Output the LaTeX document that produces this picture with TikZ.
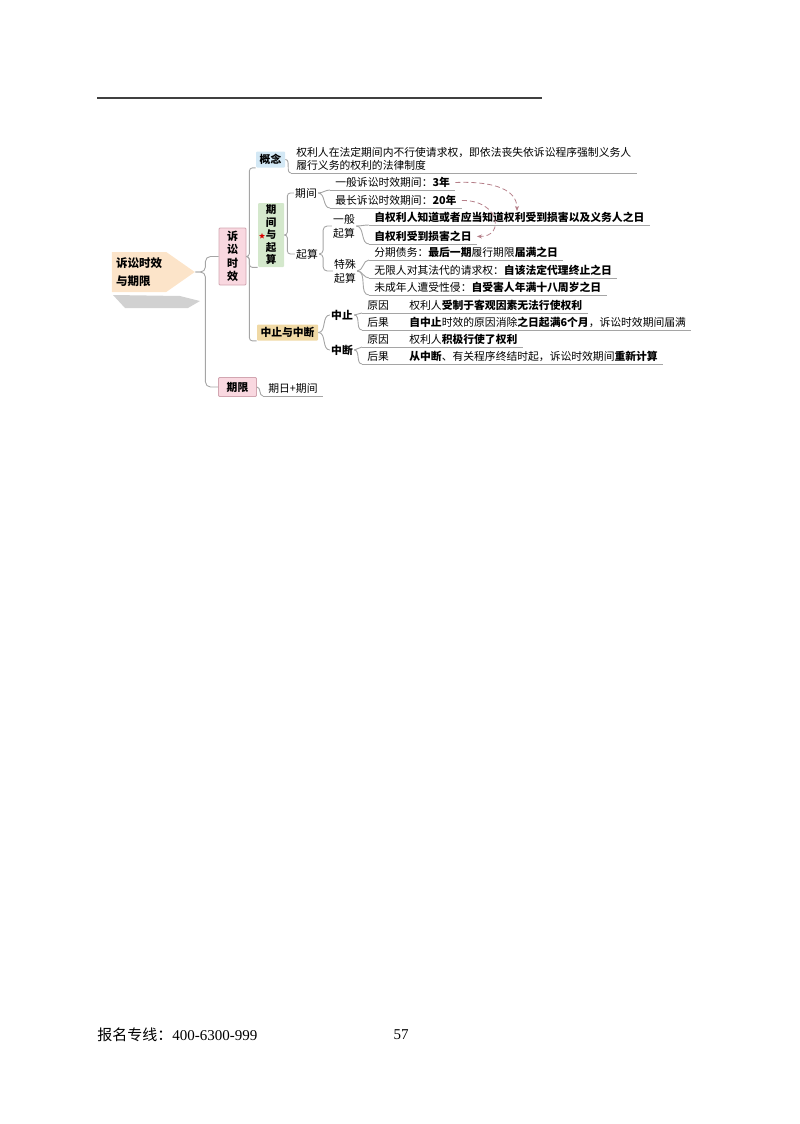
\documentclass[tikz,border=0pt]{standalone}
\usepackage{fontspec}
\setmainfont{Liberation Serif}
\newfontfamily\cjk{Noto Sans CJK SC}
\usetikzlibrary{shapes.symbols,shapes.geometric,arrows.meta}

\definecolor{rootpeach}{HTML}{FCE4C9}
\definecolor{boxpink}{HTML}{F9D8E0}
\definecolor{pinkline}{HTML}{D2A6B1}
\definecolor{boxblue}{HTML}{D3E8F5}
\definecolor{boxgreen}{HTML}{D4E8CC}
\definecolor{boxtan}{HTML}{F0D9A5}
\definecolor{linegray}{HTML}{A5A5A5}
\definecolor{arrowmauve}{HTML}{B57F89}

\tikzset{every picture/.style={line width=0.75pt}}
\tikzset{
  roottopic/.style={shape=signal, signal to=east, signal pointer angle=70,
    fill=rootpeach, minimum width=83pt, minimum height=40pt, inner sep=2pt,
    align=left, font=\cjk\bfseries\fontsize{11.5}{18}\selectfont},
  boxtopic/.style={inner sep=1pt, rounded corners=1pt,
    font=\cjk\bfseries\fontsize{10.8}{13}\selectfont},
  subtopic/.style={inner sep=1pt, font=\cjk\fontsize{10.8}{14}\selectfont},
  leaf/.style={anchor=south west, inner xsep=5pt, inner ysep=2pt,
    font=\cjk\fontsize{10.8}{13}\selectfont},
  branch/.style={draw=linegray, line width=0.9pt},
  uline/.style={draw=linegray, line width=0.9pt},
  redstar/.style={star, star points=5, star point ratio=2.3, fill=red!85!black,
    inner sep=0pt, minimum size=6pt},
  refarrow/.style={draw=arrowmauve, line width=0.8pt, dash pattern=on 5pt off 3pt,
    -{Stealth[length=5pt,width=4pt]}}
}

\begin{document}
\begin{tikzpicture}[x=1pt,y=1pt,yscale=-1]
\useasboundingbox (0,0) rectangle (800,1124);

% header rule
\draw[line width=1.4pt, black!75] (97,98) -- (542,98);

% shadow under the main topic
\fill[black!18] (113,295) -- (180,296) -- (200,301) -- (188,308) -- (125,308) -- cycle;

% main topic
\node[roottopic] (root) at (139,272) {诉讼时效\\与期限};

% boxed topics
\node[boxtopic, fill=boxpink, draw=pinkline, minimum width=27pt, minimum height=57pt,
  align=center, font=\cjk\bfseries\fontsize{11}{13.5}\selectfont] (sushi) at (232.5,256.5) {诉\\讼\\时\\效};
\node[boxtopic, fill=boxpink, draw=pinkline, minimum width=38pt, minimum height=19pt] (qixian) at (237.5,387) {期限};
\node[boxtopic, fill=boxblue, minimum width=29pt, minimum height=16pt] (gainian) at (270.5,159.5) {概念};
\node[boxtopic, fill=boxgreen, minimum width=26pt, minimum height=64pt,
  align=center, font=\cjk\bfseries\fontsize{10.5}{12.5}\selectfont] (qjqs) at (271,235) {期\\间\\与\\起\\算};
\node[redstar] (star) at (262,236) {};
\node[boxtopic, fill=boxtan, minimum width=61pt, minimum height=16pt] (zhong) at (287.5,332.5) {中止与中断};

% sub topics
\node[subtopic] (qijian) at (306,193) {期间};
\node[subtopic] (qisuan) at (307,254) {起算};
\node[subtopic, align=center] (ybqs) at (344,226) {一般\\起算};
\node[subtopic, align=center] (tsqs) at (345,271) {特殊\\起算};
\node[subtopic, font=\cjk\bfseries\fontsize{10.8}{14}\selectfont] (zz) at (342,315) {中止};
\node[subtopic, font=\cjk\bfseries\fontsize{10.8}{14}\selectfont] (zd) at (342,350) {中断};

% leaves
\node[leaf, align=left] (gntext) at (291,173) {权利人在法定期间内不行使请求权，即依法丧失依诉讼程序强制义务人\\履行义务的权利的法律制度};
\node[leaf] (t3) at (330,190) {一般诉讼时效期间：\textbf{3年}};
\node[leaf] (t20) at (330,208) {最长诉讼时效期间：\textbf{20年}};
\node[leaf] (gen1) at (369,225) {\textbf{自权利人知道或者应当知道权利受到损害以及义务人之日}};
\node[leaf] (gen2) at (369,244) {\textbf{自权利受到损害之日}};
\node[leaf] (spe1) at (369,260) {分期债务：\textbf{最后一期}履行期限\textbf{届满之日}};
\node[leaf] (spe2) at (369,278) {无限人对其法代的请求权：\textbf{自该法定代理终止之日}};
\node[leaf] (spe3) at (369,295) {未成年人遭受性侵：\textbf{自受害人年满十八周岁之日}};
\node[leaf] (yy1) at (362,313) {原因};
\node[leaf] (hg1) at (362,330) {后果};
\node[leaf] (yy2) at (362,347) {原因};
\node[leaf] (hg2) at (362,364) {后果};
\node[leaf] (zz1) at (404,313) {权利人\textbf{受制于客观因素无法行使权利}};
\node[leaf] (zz2) at (404,330) {\textbf{自中止}时效的原因消除\textbf{之日起满6个月}，诉讼时效期间届满};
\node[leaf] (zd1) at (404,347) {权利人\textbf{积极行使了权利}};
\node[leaf] (zd2) at (404,364) {\textbf{从中断}、有关程序终结时起，诉讼时效期间\textbf{重新计算}};
\node[leaf] (qm) at (263,396) {期日+期间};

% connectors
\draw[branch, rounded corners=5pt] (root.east) -- ++(10,0) |- (sushi.west);
\draw[branch, rounded corners=5pt] (root.east) -- ++(10,0) |- (qixian.west);
\foreach \n in {gainian,qjqs,zhong}
  \draw[branch, rounded corners=3pt] (sushi.east) -- ++(3,0) |- (\n.south west);
\draw[branch] (gainian.east) to[out=0,in=180] (gntext.south west);
\foreach \n in {qijian,qisuan}
  \draw[branch, rounded corners=3pt] (qjqs.east) -- ++(3,0) |- (\n.west);
\foreach \n in {t3,t20}
  \draw[branch] (qijian.east) to[out=0,in=180] (\n.south west);
\foreach \n in {ybqs,tsqs}
  \draw[branch, rounded corners=4pt] (qisuan.east) -- ++(4,0) |- (\n.west);
\foreach \n in {gen1,gen2}
  \draw[branch] (ybqs.east) to[out=0,in=180] (\n.south west);
\foreach \n in {spe1,spe2,spe3}
  \draw[branch] (tsqs.east) to[out=0,in=180] (\n.south west);
\foreach \n in {zz,zd}
  \draw[branch] (zhong.east) to[out=0,in=180] (\n.west);
\foreach \n in {yy1,hg1}
  \draw[branch] (zz.east) to[out=0,in=180] (\n.south west);
\foreach \n in {yy2,hg2}
  \draw[branch] (zd.east) to[out=0,in=180] (\n.south west);
\draw[branch] (yy1.south east) -- (zz1.south west);
\draw[branch] (hg1.south east) -- (zz2.south west);
\draw[branch] (yy2.south east) -- (zd1.south west);
\draw[branch] (hg2.south east) -- (zd2.south west);
\draw[branch] (qixian.east) to[out=0,in=180] (qm.south west);

% underlines
\foreach \n in {gntext,t3,t20,gen1,gen2,spe1,spe2,spe3,yy1,hg1,yy2,hg2,zz1,zz2,zd1,zd2,qm}
  \draw[uline] (\n.south west) -- (\n.south east);

% dashed references
\coordinate (hit) at (517,211);
\draw[refarrow] (t3.east) .. controls (495,181) and (517,190) .. (hit);
\draw[refarrow] (t20.east) .. controls (500,200) and (505,237) .. (gen2.east);

% footer
\node[anchor=west, inner sep=0pt, font=\cjk\fontsize{15}{18}\selectfont] (phone) at (97,1035) {报名专线：{\rmfamily 400-6300-999}};
\node[inner sep=0pt, font=\rmfamily\fontsize{15}{18}\selectfont] (pageno) at (401,1035) {57};

\end{tikzpicture}
\end{document}
